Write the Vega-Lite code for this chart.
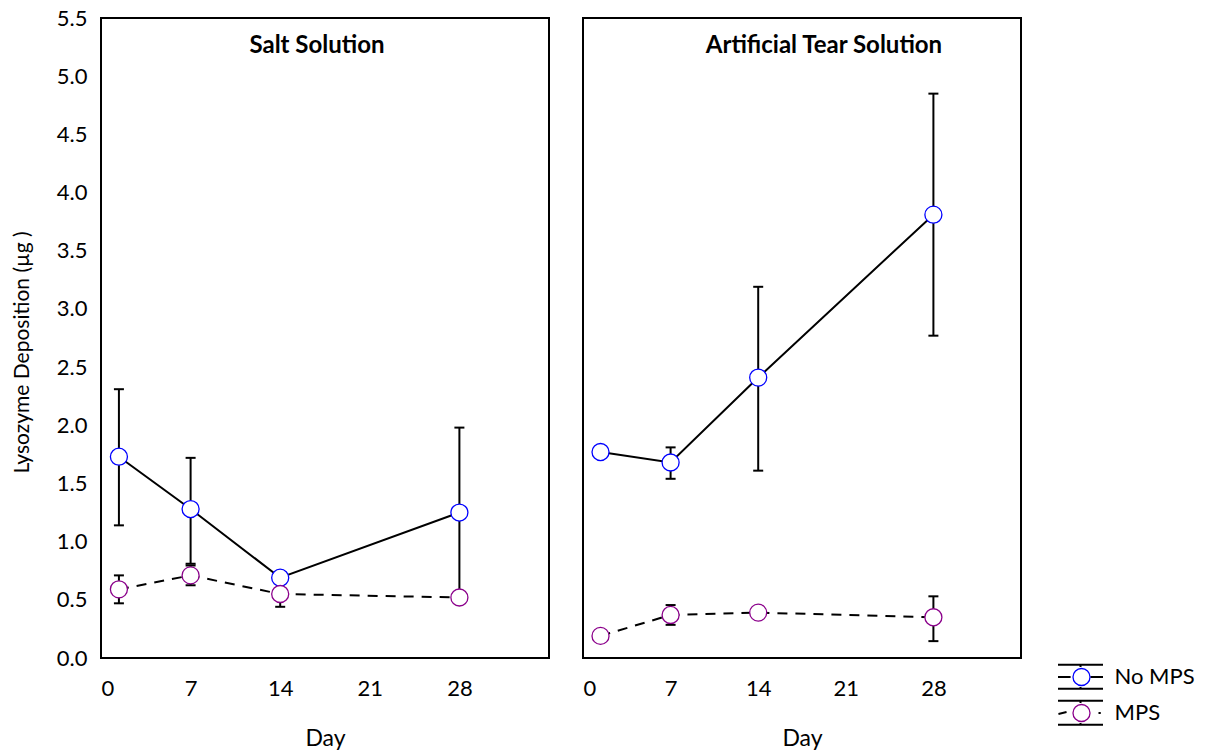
{
  "$schema": "https://vega.github.io/schema/vega-lite/v6.json",
  "background": "white",
  "padding": {"left": 10, "top": 6, "right": 190, "bottom": 0},
  "config": {
    "font": "Lato",
    "view": {"stroke": "black", "strokeWidth": 2},
    "axis": {
      "domain": false, "ticks": false, "grid": false,
      "labelFont": "Lato", "labelFontSize": 22, "labelColor": "black",
      "titleFont": "Lato", "titleFontSize": 23, "titleFontWeight": "normal", "titleColor": "black"
    },
    "title": {"font": "Lato", "fontSize": 24, "fontWeight": "bold", "color": "black", "frame": "group", "offset": -40},
    "concat": {"spacing": 32}
  },
  "datasets": {
    "lysozyme": [
      {"panel": "Salt Solution", "series": "No MPS", "day": 1.4, "mean": 1.73, "lo": 1.14, "hi": 2.31},
      {"panel": "Salt Solution", "series": "No MPS", "day": 7, "mean": 1.28, "lo": 0.81, "hi": 1.72},
      {"panel": "Salt Solution", "series": "No MPS", "day": 14, "mean": 0.69, "lo": 0.66, "hi": 0.72},
      {"panel": "Salt Solution", "series": "No MPS", "day": 28, "mean": 1.25, "lo": 0.52, "hi": 1.98},
      {"panel": "Salt Solution", "series": "MPS", "day": 1.4, "mean": 0.59, "lo": 0.47, "hi": 0.71},
      {"panel": "Salt Solution", "series": "MPS", "day": 7, "mean": 0.71, "lo": 0.625, "hi": 0.795},
      {"panel": "Salt Solution", "series": "MPS", "day": 14, "mean": 0.55, "lo": 0.44, "hi": 0.66},
      {"panel": "Salt Solution", "series": "MPS", "day": 28, "mean": 0.52, "lo": 0.5, "hi": 0.54},
      {"panel": "Artificial Tear Solution", "series": "No MPS", "day": 1.4, "mean": 1.77, "lo": 1.75, "hi": 1.79},
      {"panel": "Artificial Tear Solution", "series": "No MPS", "day": 7, "mean": 1.68, "lo": 1.54, "hi": 1.81},
      {"panel": "Artificial Tear Solution", "series": "No MPS", "day": 14, "mean": 2.41, "lo": 1.61, "hi": 3.19},
      {"panel": "Artificial Tear Solution", "series": "No MPS", "day": 28, "mean": 3.81, "lo": 2.77, "hi": 4.85},
      {"panel": "Artificial Tear Solution", "series": "MPS", "day": 1.4, "mean": 0.19, "lo": 0.17, "hi": 0.21},
      {"panel": "Artificial Tear Solution", "series": "MPS", "day": 7, "mean": 0.37, "lo": 0.285, "hi": 0.455},
      {"panel": "Artificial Tear Solution", "series": "MPS", "day": 14, "mean": 0.39, "lo": 0.37, "hi": 0.41},
      {"panel": "Artificial Tear Solution", "series": "MPS", "day": 28, "mean": 0.35, "lo": 0.145, "hi": 0.53}
    ]
  },
  "hconcat": [
    {
      "width": 448, "height": 640,
      "title": {"text": "Salt Solution", "dx": -8, "offset": -51},
      "data": {"name": "lysozyme"},
      "transform": [{"filter": "datum.panel === 'Salt Solution'"}],
      "encoding": {
        "x": {"field": "day", "type": "quantitative", "title": "Day",
              "scale": {"domain": [0, 35], "nice": false, "zero": false},
              "axis": {"values": [0, 7, 14, 21, 28], "labelPadding": 20, "titlePadding": 28}}
      },
      "layer": [
        {"mark": {"type": "rule", "color": "black", "strokeWidth": 2},
         "encoding": {
           "y": {"field": "lo", "type": "quantitative", "title": "Lysozyme Deposition (µg )",
                 "scale": {"domain": [0, 5.5], "nice": false},
                 "axis": {"values": [0, 0.5, 1, 1.5, 2, 2.5, 3, 3.5, 4, 4.5, 5, 5.5], "format": ".1f",
                          "labelPadding": 14, "titlePadding": 24, "titleFontSize": 21, "titleY": 334}},
           "y2": {"field": "hi"}}},
        {"mark": {"type": "tick", "orient": "horizontal", "size": 10, "thickness": 2, "color": "black", "opacity": 1},
         "encoding": {"y": {"field": "lo", "type": "quantitative"}}},
        {"mark": {"type": "tick", "orient": "horizontal", "size": 10, "thickness": 2, "color": "black", "opacity": 1},
         "encoding": {"y": {"field": "hi", "type": "quantitative"}}},
        {"transform": [{"filter": "datum.series === 'No MPS'"}],
         "mark": {"type": "line", "color": "black", "strokeWidth": 2},
         "encoding": {"y": {"field": "mean", "type": "quantitative"}}},
        {"transform": [{"filter": "datum.series === 'MPS'"}],
         "mark": {"type": "line", "color": "black", "strokeWidth": 2, "strokeDash": [10, 8]},
         "encoding": {"y": {"field": "mean", "type": "quantitative"}}},
        {"mark": {"type": "point", "opacity": 0, "color": "black", "stroke": "black", "strokeWidth": 2, "filled": false},
         "encoding": {
           "y": {"field": "mean", "type": "quantitative"},
           "shape": {"field": "series", "type": "nominal",
                     "scale": {"domain": ["MPS", "No MPS"],
                               "range": ["M-1,-0.55L1,-0.55M-1,0.52L1,0.52M0,-0.55L0,-0.44M0,0.44L0,0.52M-0.98,0.04L-0.62,-0.04M0.8,0L0.9,0",
                                         "M-1,-0.55L1,-0.55M-1,0.52L1,0.52M0,-0.55L0,-0.44M0,0.44L0,0.52M-1,0L-0.44,0M0.44,0L1,0"]},
                     "legend": {"orient": "none", "legendX": 956, "legendY": 641, "title": null,
                                "values": ["No MPS", "MPS"],
                                "symbolSize": 2025, "clipHeight": 36, "rowPadding": 0,
                                "symbolStrokeColor": "black", "symbolStrokeWidth": 2, "symbolOpacity": 1,
                                "symbolFillColor": "transparent",
                                "labelExpr": "''", "labelFontSize": 22,
                                "encode": {"symbols": {"update": {"opacity": {"value": 1}, "stroke": {"value": "black"},
                                                                  "strokeWidth": {"value": 2}, "fill": {"value": "transparent"}}}}}}}},
        {"mark": {"type": "point", "shape": "circle", "filled": false, "fill": "white", "fillOpacity": 1,
                  "strokeWidth": 1.3, "size": 290, "opacity": 1},
         "encoding": {
           "y": {"field": "mean", "type": "quantitative"},
           "stroke": {"field": "series", "type": "nominal",
                      "scale": {"domain": ["No MPS", "MPS"], "range": ["#0000ff", "#8b008b"]},
                      "legend": {"orient": "none", "legendX": 969.5, "legendY": 641, "title": null,
                                 "symbolType": "circle", "symbolSize": 290, "symbolStrokeWidth": 1.3,
                                 "clipHeight": 36, "rowPadding": 0, "labelFontSize": 22, "labelColor": "black",
                                 "labelFont": "Lato", "labelOffset": 22,
                                 "encode": {"symbols": {"update": {"fill": {"value": "white"}, "opacity": {"value": 1}}}}}}}}
      ]
    },
    {
      "width": 438, "height": 640,
      "title": {"text": "Artificial Tear Solution", "dx": 22},
      "data": {"name": "lysozyme"},
      "transform": [{"filter": "datum.panel === 'Artificial Tear Solution'"}],
      "encoding": {
        "x": {"field": "day", "type": "quantitative", "title": "Day",
              "scale": {"domain": [0, 35], "nice": false, "zero": false},
              "axis": {"values": [0, 7, 14, 21, 28], "labelPadding": 20, "titlePadding": 28}}
      },
      "layer": [
        {"mark": {"type": "rule", "color": "black", "strokeWidth": 2},
         "encoding": {
           "y": {"field": "lo", "type": "quantitative", "scale": {"domain": [0, 5.5], "nice": false}, "axis": null},
           "y2": {"field": "hi"}}},
        {"mark": {"type": "tick", "orient": "horizontal", "size": 10, "thickness": 2, "color": "black", "opacity": 1},
         "encoding": {"y": {"field": "lo", "type": "quantitative"}}},
        {"mark": {"type": "tick", "orient": "horizontal", "size": 10, "thickness": 2, "color": "black", "opacity": 1},
         "encoding": {"y": {"field": "hi", "type": "quantitative"}}},
        {"transform": [{"filter": "datum.series === 'No MPS'"}],
         "mark": {"type": "line", "color": "black", "strokeWidth": 2},
         "encoding": {"y": {"field": "mean", "type": "quantitative"}}},
        {"transform": [{"filter": "datum.series === 'MPS'"}],
         "mark": {"type": "line", "color": "black", "strokeWidth": 2, "strokeDash": [10, 8]},
         "encoding": {"y": {"field": "mean", "type": "quantitative"}}},
        {"mark": {"type": "point", "shape": "circle", "filled": false, "fill": "white", "fillOpacity": 1,
                  "strokeWidth": 1.3, "size": 290, "opacity": 1},
         "encoding": {
           "y": {"field": "mean", "type": "quantitative"},
           "stroke": {"field": "series", "type": "nominal"}}}
      ]
    }
  ]
}
